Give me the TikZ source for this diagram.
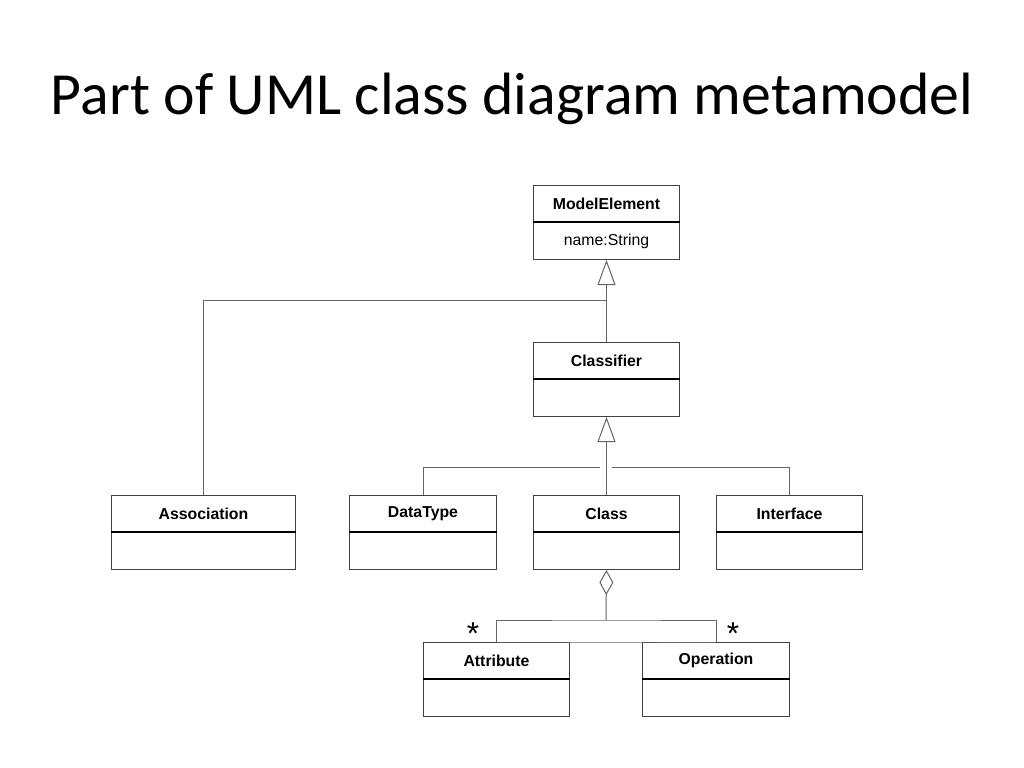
\documentclass[tikz,border=0pt]{standalone}
\usepackage{fontspec}
\setmainfont{Liberation Sans}
\newfontfamily\titlefont{Carlito}
\usetikzlibrary{positioning, arrows.meta}

\tikzset{
  head/.style={draw=black!75, line width=0.1mm, anchor=north west, inner sep=0pt,
    minimum height=0.36cm, font=\fontsize{4.5}{5}\selectfont\bfseries},
  body/.style={draw=black!75, line width=0.1mm, anchor=north west, inner sep=0pt,
    minimum height=0.37cm, font=\fontsize{4.5}{5}\selectfont},
  link/.style={draw=black!60, line width=0.1mm},
  gen/.style={link, -{Triangle[open, length=0.25cm, width=0.18cm, fill=white]}},
  agg/.style={link, -{Diamond[open, length=0.25cm, width=0.14cm, fill=white]}}
}

% box with header and body compartment
\newcommand{\umlbox}[5]{%
  \node[head, minimum width=#4cm] (#1) at (#2,#3) {#5};
  \node[body, minimum width=#4cm] (#1-b) at (#1.south west) {};
  \draw[line width=0.2mm] (#1.south west) -- (#1.south east);
}

\begin{document}
\begin{tikzpicture}[x=1cm, y=1cm]
  \useasboundingbox (0,0) rectangle (10.24,-7.68);

  \node[font=\titlefont\fontsize{17}{20}\selectfont] (title) at (5.12,-0.99) {Part of UML class diagram metamodel};

  \umlbox{me}{5.33}{-1.85}{1.46}{ModelElement}
  \node[font=\fontsize{4.5}{5}\selectfont] at (me-b) {name:String};
  \umlbox{cl}{5.33}{-3.42}{1.46}{Classifier}
  \umlbox{as}{1.11}{-4.95}{1.84}{Association}
  \umlbox{dt}{3.49}{-4.95}{1.47}{DataType}
  \umlbox{cs}{5.33}{-4.95}{1.46}{Class}
  \umlbox{if}{7.16}{-4.95}{1.46}{Interface}
  \umlbox{at}{4.23}{-6.42}{1.46}{Attribute}
  \umlbox{op}{6.42}{-6.42}{1.47}{Operation}

  % generalizations
  \draw[gen] (cl.north) -- (me-b.south);
  \draw[link] (as.north) |- (6.06,-3.00);
  \draw[gen] (cs.north) -- (cl-b.south);
  \draw[link] (dt.north) |- (6.00,-4.67);
  \draw[link] (if.north) |- (6.12,-4.67);

  % aggregation
  \draw[agg] (6.06,-6.20) -- (cs-b.south);
  \draw[link] (at.north) |- (op.north -| 6.06,-6.20) -- (op.north -| op.north);
  \draw[link] (at.north) |- (6.06,-6.20) -| (op.north);
  \node[font=\fontsize{9}{9}\selectfont] at (4.73,-6.34) {*};
  \node[font=\fontsize{9}{9}\selectfont] at (7.33,-6.34) {*};
\end{tikzpicture}
\end{document}
